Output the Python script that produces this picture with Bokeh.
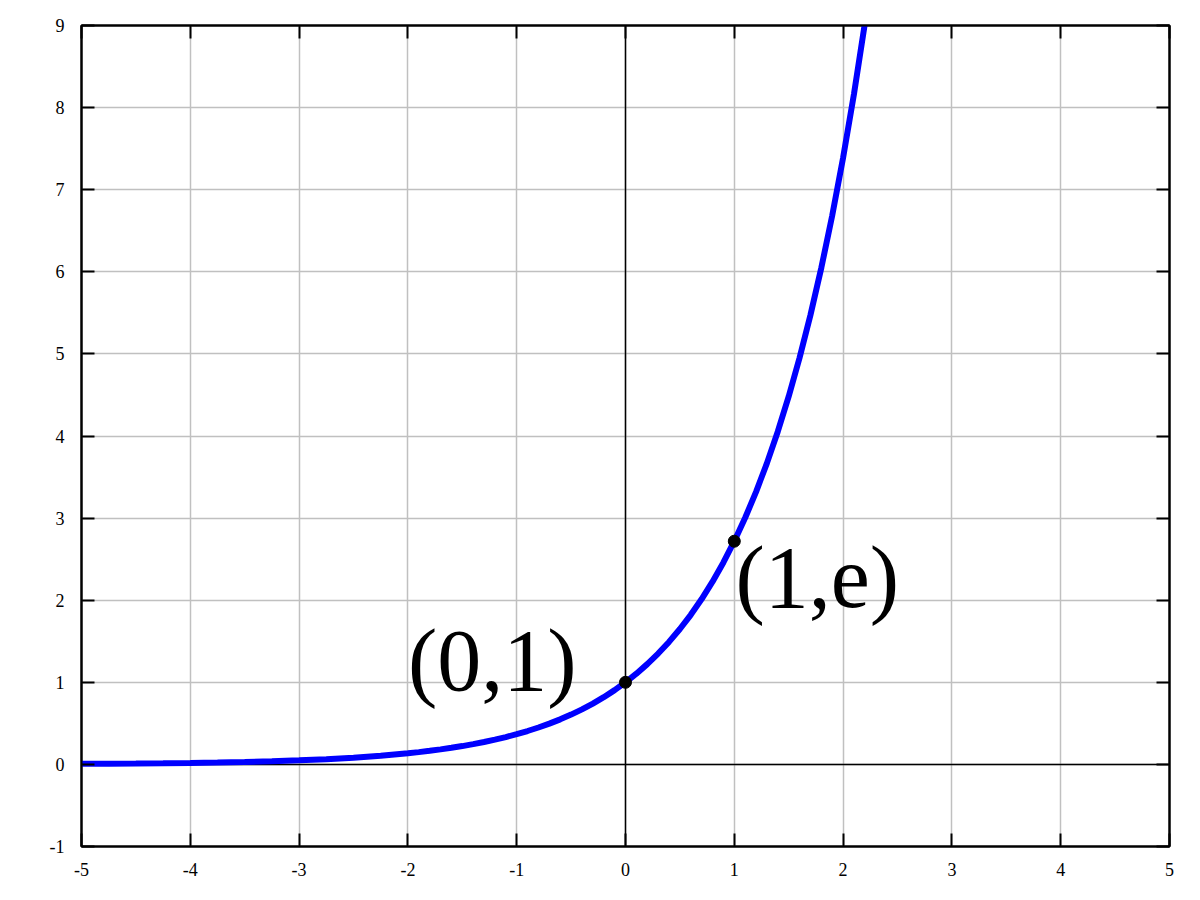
from bokeh.plotting import figure
from bokeh.models import (Range1d, LinearAxis, FixedTicker, Span,
                          ColumnDataSource, CustomLabelingPolicy)
from bokeh.core.properties import value
from bokeh.embed import file_html
from bokeh.resources import INLINE

# Curve
curve_x = [-5.0, -4.75, -4.5, -4.25, -4.0, -3.75, -3.5, -3.25, -3.0, -2.75,
           -2.5, -2.25, -2.0, -1.9, -1.8, -1.7, -1.6, -1.5, -1.4, -1.3, -1.2,
           -1.1, -1.0, -0.9, -0.8, -0.7, -0.6, -0.5, -0.4, -0.3, -0.2, -0.1,
           0.0, 0.1, 0.2, 0.3, 0.4, 0.5, 0.6, 0.7, 0.8, 0.9, 1.0, 1.1, 1.2,
           1.3, 1.4, 1.5, 1.6, 1.7, 1.8, 1.9, 2.0, 2.1, 2.2]
curve_y = [0.0067, 0.0087, 0.0111, 0.0143, 0.0183, 0.0235, 0.0302, 0.0388,
           0.0498, 0.0639, 0.0821, 0.1054, 0.1353, 0.1496, 0.1653, 0.1827,
           0.2019, 0.2231, 0.2466, 0.2725, 0.3012, 0.3329, 0.3679, 0.4066,
           0.4493, 0.4966, 0.5488, 0.6065, 0.6703, 0.7408, 0.8187, 0.9048,
           1.0, 1.1052, 1.2214, 1.3499, 1.4918, 1.6487, 1.8221, 2.0138,
           2.2255, 2.4596, 2.7183, 3.0042, 3.3201, 3.6693, 4.0552, 4.4817,
           4.9530, 5.4739, 6.0496, 6.6859, 7.3891, 8.1662, 9.0250]

# Marked points and their labels
point_x = [0.0, 1.0]
point_y = [1.0, 2.7183]
label_text = ["(0,1)", "(1,e)"]
label_x = [-2.0, 1.01]
label_y = [1.27, 2.28]

# Ticks
x_ticks = [-5, -4, -3, -2, -1, 0, 1, 2, 3, 4, 5]
x_tick_labels = ["-5", "-4", "-3", "-2", "-1", "0", "1", "2", "3", "4", "5"]
y_ticks = [-1, 0, 1, 2, 3, 4, 5, 6, 7, 8, 9]
y_tick_labels = ["-1", "0", "1", "2", "3", "4", "5", "6", "7", "8", "9"]

FONT = "Liberation Serif"

p = figure(frame_width=1088, frame_height=821,
           x_range=Range1d(-5, 5), y_range=Range1d(-1, 9),
           output_backend="svg", toolbar_location=None,
           min_border_left=81, min_border_top=25,
           min_border_right=25, min_border_bottom=50)

p.outline_line_color = "black"
p.outline_line_width = 2
p.background_fill_color = "white"
p.border_fill_color = "white"

xt = FixedTicker(ticks=x_ticks)
yt = FixedTicker(ticks=y_ticks)

bottom = p.below[0]
left = p.left[0]
right = LinearAxis()
above = LinearAxis()
p.add_layout(right, "right")
p.add_layout(above, "above")

for ax, tk in [(bottom, xt), (above, xt), (left, yt), (right, yt)]:
    ax.ticker = tk
    ax.major_tick_in = 13
    ax.major_tick_out = 0
    ax.minor_tick_in = 0
    ax.minor_tick_out = 0
    ax.major_tick_line_color = "black"
    ax.major_tick_line_width = 2
    ax.axis_line_color = "black"
    ax.axis_line_width = 2
    ax.major_label_text_font = FONT
    ax.major_label_text_font_size = "18px"
    ax.major_label_text_color = "black"

bottom.major_label_overrides = {t: s for t, s in zip(x_ticks, x_tick_labels)}
left.major_label_overrides = {t: s for t, s in zip(y_ticks, y_tick_labels)}
bottom.major_label_standoff = 16
left.major_label_standoff = 17
for ax in (right, above):
    ax.major_label_policy = CustomLabelingPolicy(code="return []")
    ax.major_label_text_font_size = "2px"
    ax.major_label_standoff = 0

p.xgrid.ticker = xt
p.ygrid.ticker = yt
p.xgrid.grid_line_color = "#c0c0c0"
p.ygrid.grid_line_color = "#c0c0c0"
p.xgrid.grid_line_width = 1.5
p.ygrid.grid_line_width = 1.5

p.add_layout(Span(location=0, dimension="height", line_color="black",
                  line_width=1.5, level="underlay"))
p.add_layout(Span(location=0, dimension="width", line_color="black",
                  line_width=1.5, level="underlay"))

p.line(curve_x, curve_y, line_color="#0000ff", line_width=6)
p.scatter(point_x, point_y, size=12, fill_color="black", line_color="black")

src = ColumnDataSource(dict(x=label_x, y=label_y, t=label_text))
p.text(x="x", y="y", text="t", source=src, text_font=value(FONT),
       text_font_size="88px", text_baseline="alphabetic", text_align="left",
       text_color="black")

open("out.html", "w").write(file_html(p, INLINE))
